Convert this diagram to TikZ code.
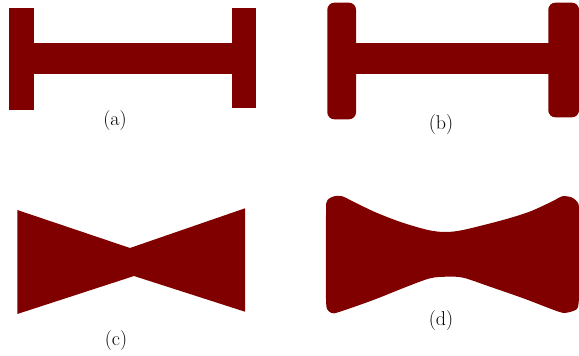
\documentclass[tikz,border=0pt]{standalone}
\definecolor{dred}{RGB}{128,0,0}
\begin{document}
\begin{tikzpicture}[x=1pt,y=-1pt,
  solid fill/.style={fill=dred},
  lab/.style={inner sep=0pt,font=\fontsize{20}{22}\selectfont}]
\useasboundingbox (0,0) rectangle (579,356);
% (a)
\fill[solid fill] (9.3,8) rectangle (34,110);
\fill[solid fill] (231.7,8) rectangle (256,108);
\fill[solid fill] (33,43.3) rectangle (232.7,74);
% (b)
\fill[solid fill,rounded corners=7pt] (327.3,2.7) rectangle (356,119.3);
\fill[solid fill,rounded corners=7pt] (548.3,2.7) rectangle (579,117.3);
\fill[solid fill] (355,43.3) rectangle (549.3,74);
% (c)
\fill[solid fill] (17.3,210) -- (130,248) -- (245,208.3) -- (245,311.7) -- (134,276) -- (17.3,314) -- cycle;
% (d)
\fill[solid fill] plot[smooth,tension=0.5] coordinates {(326,300)(326,215)(327,201)(334,196.3)(343,196.5)(352,201)(376,212.5)(402,222.5)(428,230)(445,232)(463,230)(503,220)(530,211.5)(553,201)(562,196.3)(572,197.5)(578.5,204)(578.8,215)}
  -- plot[smooth,tension=0.5] coordinates {(578.8,300)(577,309)(566,312.8)(556.7,311)(523.3,298.3)(490,286.7)(463.3,277.7)(446.7,276.7)(430,278.3)(406.7,286.7)(373.3,300)(340,311.7)(332,313.2)(327,309)(326,300)} -- cycle;
% labels
\node[lab] (la) at (115,121) {(a)};
\node[lab] (lb) at (441,124.5) {(b)};
\node[lab] (lc) at (116,340.5) {(c)};
\node[lab] (ld) at (441,321) {(d)};
\end{tikzpicture}
\end{document}
